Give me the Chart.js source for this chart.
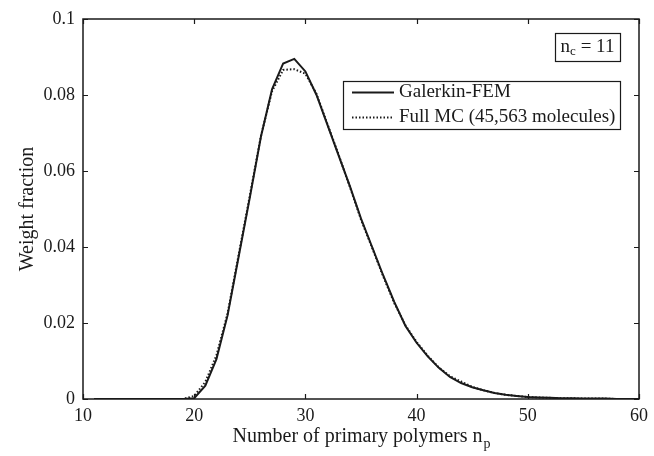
<!DOCTYPE html>
<html>
<head>
<meta charset="utf-8">
<script src="https://cdn.jsdelivr.net/npm/chart.js@4/dist/chart.umd.min.js"></script>
<style>
html,body{margin:0;padding:0;background:#fff;}
#wrap{width:654px;height:456px;position:relative;}
</style>
</head>
<body>
<div id="wrap"><canvas id="c" width="654" height="456"></canvas></div>
<script>
// ---- data ----
const nValues = [11,12,13,14,15,16,17,18,19,20,21,22,23,24,25,26,27,28,29,30,31,32,33,34,35,36,37,38,39,40,41,42,43,44,45,46,47,48,49,50,51,52,53,54,55,56,57,58,59,60];
const galerkin = [0,0,0,0,0,0,0,0,0,0.0002,0.0035,0.0105,0.0220,0.0375,0.0530,0.0690,0.0815,0.0883,0.0895,0.0862,0.0800,0.0720,0.0640,0.0560,0.0475,0.0400,0.0325,0.0255,0.0192,0.0148,0.0112,0.0082,0.0058,0.0042,0.0031,0.0023,0.0016,0.0011,0.0008,0.0005,0.0004,0.0003,0.0002,0.0002,0.0001,0.0001,0.0001,0,0,0];
const fullMC   = [0,0,0,0,0,0,0,0,0,0.0008,0.0045,0.0115,0.0225,0.0380,0.0535,0.0692,0.0810,0.0866,0.0868,0.0856,0.0803,0.0722,0.0642,0.0558,0.0472,0.0398,0.0322,0.0252,0.0194,0.0150,0.0114,0.0083,0.0060,0.0046,0.0032,0.0023,0.0016,0.0011,0.0008,0.0005,0.0004,0.0003,0.0002,0.0002,0.0001,0.0001,0.0001,0,0,0];
const seriesLabels = ['Galerkin-FEM','Full MC (45,563 molecules)'];
const xTicks = [10,20,30,40,50,60];
const yTicks = [0,0.02,0.04,0.06,0.08,0.1];
const annotationMain = 'n';
const annotationSub = 'c';
const annotationTail = ' = 11';
const xTitleMain = 'Number of primary polymers n';
const xTitleSub = 'p';
const yTitle = 'Weight fraction';

const FONT = '"Liberation Serif", "Times New Roman", serif';
const INK = '#1a1a1a';

const toPts = (ys) => nValues.map((n,i)=>({x:n,y:ys[i]}));

const decor = {
  id:'decor',
  afterDraw(chart){
    const ctx = chart.ctx;
    const a = chart.chartArea;
    const xs = chart.scales.x, ys = chart.scales.y;
    ctx.save();
    // frame
    ctx.strokeStyle = INK;
    ctx.lineWidth = 1.5;
    ctx.strokeRect(a.left, a.top, a.right-a.left, a.bottom-a.top);
    // inward ticks
    ctx.lineWidth = 1.2;
    const tl = 5;
    ctx.beginPath();
    xTicks.forEach(v=>{
      const px = Math.round(xs.getPixelForValue(v))+0.5;
      ctx.moveTo(px,a.bottom); ctx.lineTo(px,a.bottom-tl);
      ctx.moveTo(px,a.top); ctx.lineTo(px,a.top+tl);
    });
    yTicks.forEach(v=>{
      const py = Math.round(ys.getPixelForValue(v))+0.5;
      ctx.moveTo(a.left,py); ctx.lineTo(a.left+tl,py);
      ctx.moveTo(a.right,py); ctx.lineTo(a.right-tl,py);
    });
    ctx.stroke();

    // x title with subscript
    ctx.fillStyle = INK;
    ctx.textBaseline = 'middle';
    ctx.font = '20px ' + FONT;
    const wMain = ctx.measureText(xTitleMain).width;
    ctx.font = '14px ' + FONT;
    const wSub = ctx.measureText(xTitleSub).width;
    const cx = (a.left + a.right)/2;
    let sx = cx - (wMain + wSub)/2;
    ctx.textAlign = 'left';
    ctx.font = '20px ' + FONT;
    ctx.fillText(xTitleMain, sx, 437);
    ctx.font = '14px ' + FONT;
    ctx.fillText(xTitleSub, sx + wMain + 1, 444);

    // y title
    ctx.save();
    ctx.translate(28, (a.top + a.bottom)/2);
    ctx.rotate(-Math.PI/2);
    ctx.textAlign = 'center';
    ctx.font = '20px ' + FONT;
    ctx.fillText(yTitle, 0, 0);
    ctx.restore();

    // n_c box
    ctx.lineWidth = 1.2;
    ctx.strokeStyle = INK;
    const bx1 = 555, by1 = 33, bx2 = 620, by2 = 61;
    ctx.strokeRect(bx1+0.5, by1+0.5, bx2-bx1, by2-by1);
    ctx.font = '19px ' + FONT;
    ctx.textAlign = 'left';
    const nW = ctx.measureText(annotationMain).width;
    ctx.font = '13px ' + FONT;
    const cW = ctx.measureText(annotationSub).width;
    ctx.font = '19px ' + FONT;
    const tW = ctx.measureText(annotationTail).width;
    let ax = (bx1+bx2)/2 - (nW+cW+tW)/2;
    const ay = (by1+by2)/2;
    ctx.fillText(annotationMain, ax, ay);
    ctx.font = '13px ' + FONT;
    ctx.fillText(annotationSub, ax+nW, ay+5);
    ctx.font = '19px ' + FONT;
    ctx.fillText(annotationTail, ax+nW+cW, ay);

    // legend box
    const lx1 = 343, ly1 = 81, lx2 = 620, ly2 = 129;
    ctx.strokeRect(lx1+0.5, ly1+0.5, lx2-lx1, ly2-ly1);
    const rows = [92, 117];
    chart.data.datasets.forEach((ds,i)=>{
      ctx.beginPath();
      ctx.strokeStyle = ds.borderColor;
      ctx.lineWidth = ds.borderWidth;
      ctx.setLineDash(ds.borderDash || []);
      ctx.moveTo(352, rows[i]+0.5); ctx.lineTo(394, rows[i]+0.5);
      ctx.stroke();
      ctx.setLineDash([]);
      ctx.fillStyle = INK;
      ctx.font = '19px ' + FONT;
      ctx.textAlign = 'left';
      ctx.fillText(ds.label, 399, rows[i]);
    });
    ctx.restore();
  }
};

new Chart(document.getElementById('c'), {
  type:'line',
  data:{
    datasets:[
      {label:seriesLabels[0], data:toPts(galerkin), borderColor:INK, borderWidth:2, pointRadius:0, tension:0, fill:false},
      {label:seriesLabels[1], data:toPts(fullMC), borderColor:INK, borderWidth:2, borderDash:[1.5,2], pointRadius:0, tension:0, fill:false}
    ]
  },
  options:{
    responsive:false,
    animation:false,
    layout:{padding:{top:19,right:10,left:0,bottom:0}},
    plugins:{legend:{display:false}, tooltip:{enabled:false}},
    scales:{
      x:{
        type:'linear', min:10, max:60,
        afterBuildTicks(s){ s.ticks = xTicks.map(v=>({value:v})); },
        afterFit(s){ s.height = 57; },
        grid:{drawOnChartArea:false, drawTicks:false},
        border:{display:false},
        ticks:{color:INK, font:{family:FONT, size:18}, padding:6, maxRotation:0, autoSkip:false}
      },
      y:{
        type:'linear', min:0, max:0.1,
        afterBuildTicks(s){ s.ticks = yTicks.map(v=>({value:v})); },
        afterFit(s){ s.width = 83; },
        grid:{drawOnChartArea:false, drawTicks:false},
        border:{display:false},
        ticks:{color:INK, font:{family:FONT, size:18}, padding:8,
          callback:(v)=> String(Math.round(v*100)/100)}
      }
    }
  },
  plugins:[decor]
});
</script>
</body>
</html>
